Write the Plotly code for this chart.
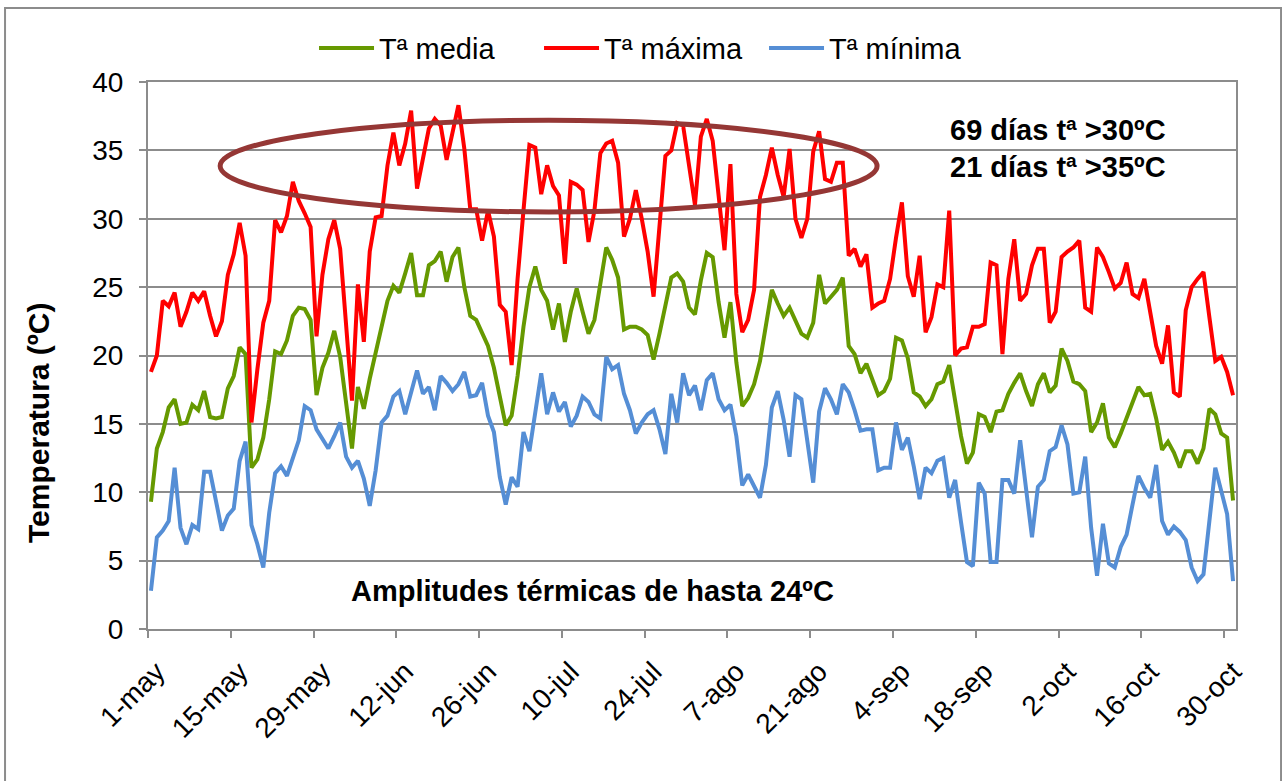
import pandas as pd
import plotly.graph_objects as go

# Daily series, 1-may .. 31-oct
t_max = [18.8, 20.0, 24.0, 23.6, 24.6, 22.1, 23.2, 24.6, 24.0, 24.7, 22.9, 21.4, 22.5, 25.9, 27.4, 29.7, 27.3, 15.1, 19.0, 22.4, 24.0, 29.9, 29.0, 30.2,
         32.7, 31.3, 30.4, 29.4, 21.4, 25.9, 28.5, 29.9, 27.8, 22.0, 16.7, 25.2, 21.0, 27.6, 30.1, 30.2, 33.9, 36.3, 33.9, 35.5, 37.9, 32.2, 34.5, 36.6,
         37.3, 36.8, 34.3, 36.3, 38.3, 35.1, 30.7, 30.7, 28.4, 30.6, 28.7, 23.7, 23.2, 19.3, 25.6, 30.6, 35.4, 35.2, 31.8, 33.9, 32.4, 31.7, 26.7, 32.7, 32.5,
         32.1, 28.3, 30.6, 34.8, 35.5, 35.7, 34.1, 28.7, 30.0, 32.1, 30.0, 27.6, 24.3, 29.8, 34.6, 35.0, 37.0, 36.8, 33.9, 31.0, 36.0, 37.3, 35.7, 31.7, 27.7,
         34.0, 24.5, 21.7, 22.6, 24.8, 31.6, 33.2, 35.2, 33.2, 31.6, 35.1, 30.0, 28.6, 30.0, 34.9, 36.4, 32.9, 32.7, 34.1, 34.1, 27.3, 27.8, 26.5, 27.4,
         23.5, 23.8, 24.0, 25.6, 28.6, 31.2, 25.8, 24.3, 27.3, 21.7, 22.8, 25.2, 25.0, 30.6, 20.0, 20.5, 20.6, 22.1, 22.1, 22.3, 26.8, 26.6, 20.1, 25.6, 28.5,
         24.0, 24.5, 26.6, 27.8, 27.8, 22.4, 23.2, 27.2, 27.6, 27.9, 28.4, 23.5, 23.2, 27.9, 27.2, 26.1, 24.9, 25.3, 26.8, 24.5, 24.2, 25.6, 23.0,
         20.7, 19.4, 22.2, 17.3, 17.0, 23.3, 25.0, 25.6, 26.1, 22.8, 19.6, 19.9, 18.8, 17.1]

t_media = [9.3, 13.2, 14.4, 16.2, 16.8, 15.0, 15.1, 16.4, 16.0, 17.4, 15.5, 15.4, 15.5, 17.6, 18.5, 20.6, 20.1, 11.8, 12.4, 14.0, 16.8, 20.3, 20.1, 21.1,
           22.9, 23.5, 23.4, 22.6, 17.1, 19.1, 20.2, 21.8, 19.9, 16.6, 13.2, 17.7, 16.1, 18.3, 20.2, 21.9, 24.0, 25.1, 24.6, 26.0, 27.5, 24.4, 24.4, 26.6,
           26.9, 27.6, 25.4, 27.2, 27.9, 25.0, 22.9, 22.6, 21.6, 20.7, 19.1, 17.1, 14.9, 15.6, 18.5, 22.1, 25.0, 26.5, 24.8, 24.0, 21.9, 23.8, 21.0, 23.2, 24.9,
           23.2, 21.6, 22.6, 25.2, 27.9, 27.0, 25.7, 21.9, 22.1, 22.1, 21.9, 21.5, 19.7, 21.6, 23.8, 25.7, 26.0, 25.4, 23.5, 23.0, 25.5, 27.5, 27.2, 23.9, 21.3,
           23.9, 19.5, 16.3, 16.9, 17.9, 19.6, 22.2, 24.8, 23.8, 22.9, 23.5, 22.6, 21.6, 21.3, 22.4, 25.9, 23.8, 24.3, 24.8, 25.7, 20.7, 20.1, 18.7, 19.4,
           18.2, 17.1, 17.4, 18.3, 21.3, 21.1, 19.8, 17.3, 17.0, 16.3, 16.8, 17.9, 18.1, 19.3, 16.7, 14.1, 12.1, 12.9, 15.7, 15.5, 14.4, 15.9, 16.0, 17.2, 18.0,
           18.7, 17.4, 16.3, 17.9, 18.7, 17.3, 17.8, 20.5, 19.6, 18.1, 17.9, 17.4, 14.4, 15.1, 16.5, 14.0, 13.3, 14.3, 15.4, 16.5, 17.7, 17.1, 17.2,
           15.4, 13.1, 13.7, 12.9, 11.8, 13.0, 13.0, 12.1, 13.2, 16.1, 15.7, 14.3, 14.0, 9.4]

t_min = [2.8, 6.7, 7.2, 7.9, 11.8, 7.4, 6.2, 7.6, 7.3, 11.5, 11.5, 9.5, 7.2, 8.3, 8.8, 12.3, 13.7, 7.6, 6.2, 4.5, 8.5, 11.4, 11.9, 11.2,
         12.6, 13.8, 16.3, 16.0, 14.6, 13.9, 13.2, 14.1, 15.1, 12.6, 11.8, 12.3, 11.0, 9.0, 11.6, 15.1, 15.6, 17.0, 17.4, 15.7, 17.4, 18.9, 17.2, 17.7,
         16.0, 18.5, 18.0, 17.4, 17.9, 18.8, 17.0, 17.1, 18.0, 15.6, 14.4, 11.1, 9.1, 11.1, 10.4, 14.4, 13.0, 15.9, 18.7, 15.7, 17.3, 15.9, 16.6, 14.8, 15.6,
         17.0, 16.6, 15.7, 15.4, 19.9, 19.0, 19.3, 17.2, 16.0, 14.3, 15.1, 15.7, 16.0, 14.6, 12.8, 17.2, 15.1, 18.7, 17.1, 17.8, 16.0, 18.2, 18.7, 16.8, 16.0,
         16.4, 14.1, 10.5, 11.3, 10.5, 9.6, 12.0, 16.2, 17.4, 15.3, 12.6, 17.1, 16.8, 13.7, 10.7, 15.9, 17.6, 16.8, 15.7, 17.9, 17.3, 16.0, 14.5, 14.6,
         14.6, 11.6, 11.8, 11.8, 15.1, 13.1, 14.0, 11.9, 9.5, 11.8, 11.4, 12.3, 12.5, 9.6, 10.9, 7.8, 4.9, 4.6, 10.7, 9.9, 4.9, 4.9, 10.9, 10.9, 9.9,
         13.8, 10.4, 6.7, 10.4, 10.9, 13.0, 13.3, 14.9, 13.5, 9.9, 10.0, 12.6, 7.4, 3.9, 7.7, 4.8, 4.5, 6.0, 6.9, 9.1, 11.2, 10.3, 9.6,
         12.0, 7.9, 6.9, 7.5, 7.1, 6.5, 4.5, 3.5, 4.0, 7.9, 11.8, 10.1, 8.4, 3.5]

start_date = "2013-05-01"
tick_labels = ["1-may", "15-may", "29-may", "12-jun", "26-jun", "10-jul", "24-jul",
               "7-ago", "21-ago", "4-sep", "18-sep", "2-oct", "16-oct", "30-oct"]
tick_step_days = 14

dates = pd.date_range(start_date, periods=len(t_max), freq="D")
half = pd.Timedelta(hours=12)
# label anchors nudged right of the tick marks, as in the original chart
label_shift = pd.Timedelta(days=1.5)
tick_vals = [dates[0] + pd.Timedelta(days=tick_step_days * k) - half + label_shift
             for k in range(len(tick_labels))]

FONT = "Arial, Liberation Sans, sans-serif"
GRID = "#8c8c8c"

fig = go.Figure()
fig.add_trace(go.Scatter(x=dates, y=t_media, mode="lines", name="Tª media",
                         line=dict(color="#669900", width=4)))
fig.add_trace(go.Scatter(x=dates, y=t_max, mode="lines", name="Tª máxima",
                         line=dict(color="#FF0000", width=4)))
fig.add_trace(go.Scatter(x=dates, y=t_min, mode="lines", name="Tª mínima",
                         line=dict(color="#558ED5", width=4)))

# Ellipse highlighting the hottest period
fig.add_shape(type="circle", xref="x", yref="y",
              x0=dates[0] + pd.Timedelta(days=11.7), x1=dates[0] + pd.Timedelta(days=122.8),
              y0=30.5, y1=37.2, line=dict(color="#953735", width=5), layer="above")

# Outer chart border
fig.add_shape(type="rect", xref="paper", yref="paper",
              x0=-0.1314, x1=1.0414, y0=1.1353, y1=-0.40,
              line=dict(color=GRID, width=2), layer="below")

fig.add_annotation(x=dates[0] + pd.Timedelta(days=153.4), y=36.5, xref="x", yref="y",
                   text="<b>69 días tª >30ºC</b>", showarrow=False,
                   font=dict(family=FONT, size=29, color="black"))
fig.add_annotation(x=dates[0] + pd.Timedelta(days=153.4), y=33.8, xref="x", yref="y",
                   text="<b>21 días tª >35ºC</b>", showarrow=False,
                   font=dict(family=FONT, size=29, color="black"))
fig.add_annotation(x=dates[0] + pd.Timedelta(days=74.6), y=2.8, xref="x", yref="y",
                   text="<b>Amplitudes térmicas de hasta 24ºC</b>", showarrow=False,
                   font=dict(family=FONT, size=29, color="black"))
fig.add_annotation(x=-0.117, y=0.377, xref="paper", yref="paper",
                   text="<b>Temperatura (ºC)</b>", textangle=-90, showarrow=False,
                   font=dict(family=FONT, size=30, color="black"))

fig.update_layout(
    width=1282, height=781,
    margin=dict(l=148, r=46, t=82, b=152, pad=0),
    paper_bgcolor="white", plot_bgcolor="white",
    font=dict(family=FONT, size=28, color="black"),
    showlegend=True,
    legend=dict(orientation="h", x=0.1526, xanchor="left", y=1.062, yanchor="middle",
                font=dict(family=FONT, size=29), entrywidth=155, entrywidthmode="pixels",
                itemwidth=55, bgcolor="rgba(0,0,0,0)"),
)
fig.update_xaxes(range=[dates[0] - half, dates[-1] + half],
                 tickmode="array", tickvals=tick_vals, ticktext=tick_labels,
                 tickangle=-45, tickfont=dict(family=FONT, size=28),
                 ticks="", ticklabelstandoff=13,
                 minor=dict(ticks="outside", ticklen=7, tickwidth=2, tickcolor=GRID,
                            dtick=tick_step_days * 86400000,
                            tick0=dates[0] - half, showgrid=False),
                 showline=True, linecolor=GRID, linewidth=2, mirror=True,
                 showgrid=False, zeroline=False)
fig.update_yaxes(range=[0, 40], dtick=5, tick0=0,
                 tickfont=dict(family=FONT, size=28),
                 ticks="outside", ticklen=7, tickwidth=2, tickcolor=GRID,
                 ticklabelstandoff=10,
                 showline=True, linecolor=GRID, linewidth=2, mirror=True,
                 showgrid=True, gridcolor=GRID, gridwidth=2, zeroline=False)

fig.write_html("out.html", config={"displayModeBar": False},
               post_script="document.body.style.margin='0px';")
